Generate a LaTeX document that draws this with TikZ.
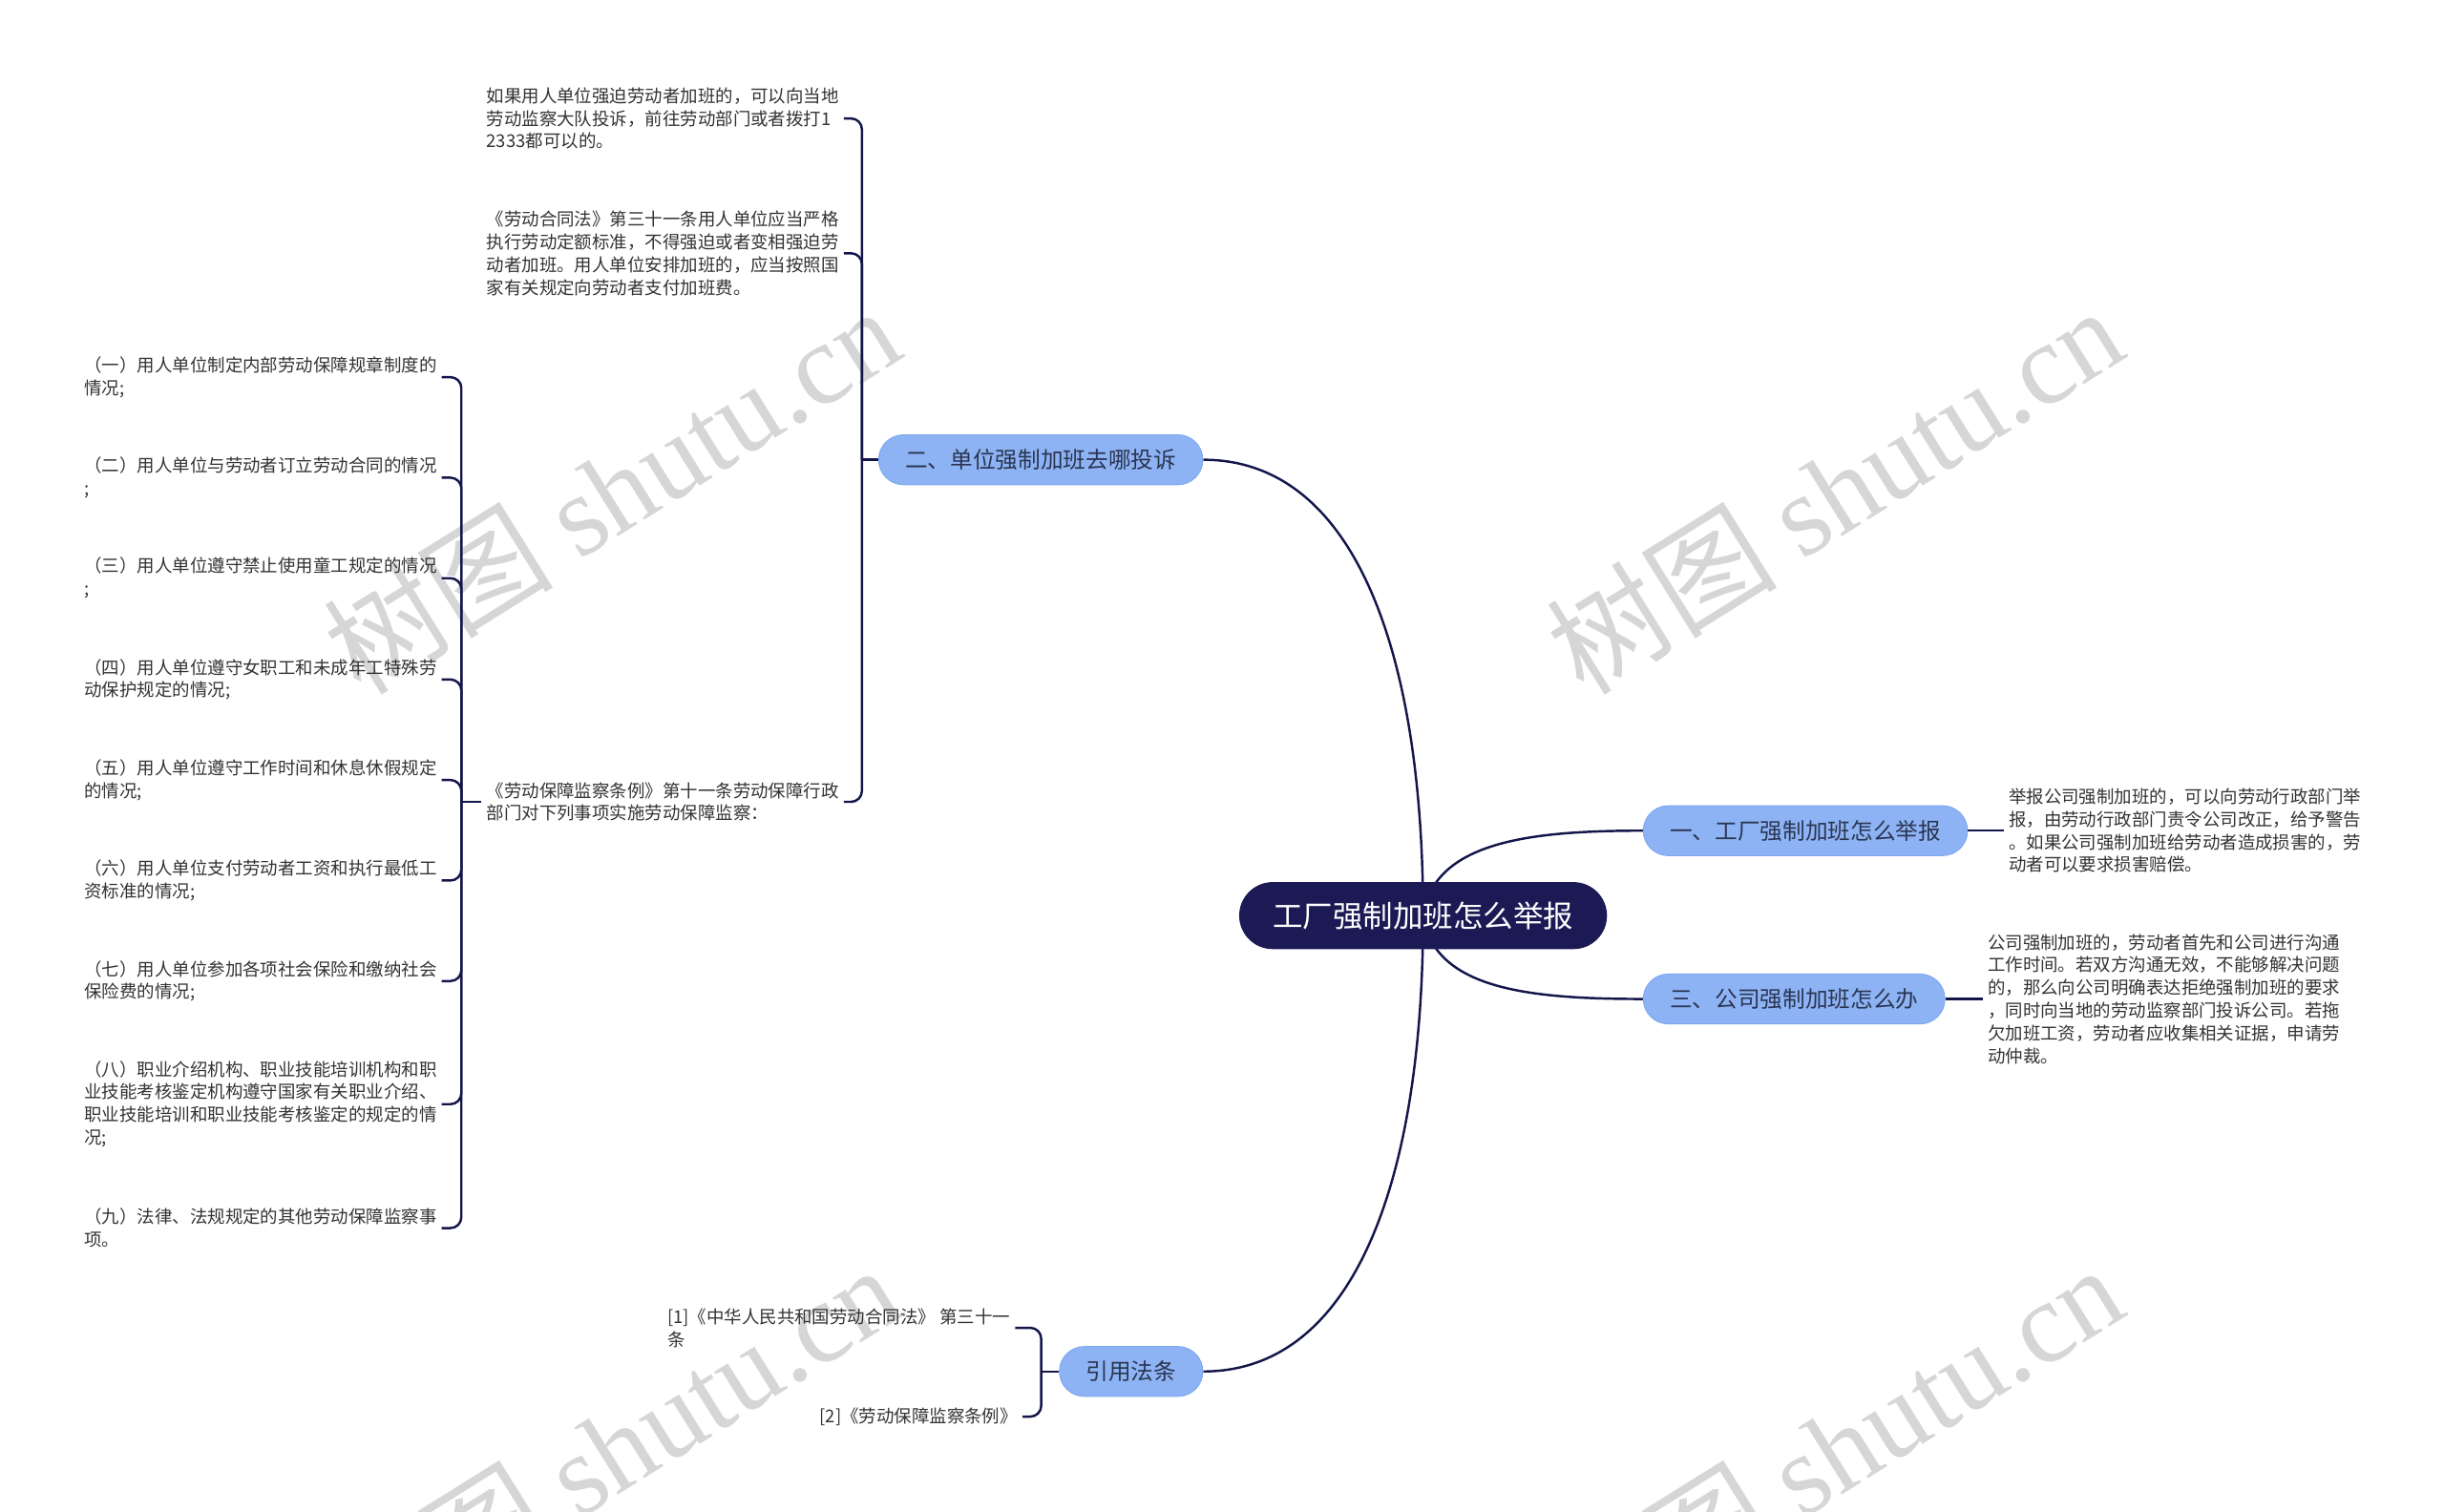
\documentclass[tikz,border=0pt]{standalone}
\usepackage{fontspec}
\setmainfont{Noto Sans CJK SC}
\newfontfamily\wmfont{Liberation Serif}
\usetikzlibrary{positioning,backgrounds}
\definecolor{navy}{HTML}{1B1A55}
\definecolor{linkblue}{HTML}{14164A}
\definecolor{softblue}{HTML}{8DB3F4}
\definecolor{edgeblue}{HTML}{7FA8F0}
\definecolor{textblue}{HTML}{2A3550}
\definecolor{inkgray}{HTML}{333333}
\definecolor{markgray}{HTML}{D6D6D6}

\begin{document}
\begin{tikzpicture}[x=1pt,y=-1pt,
			root/.style={fill=navy,text=white,rounded corners=21.5pt,minimum width=236pt,minimum height=43pt,inner sep=0pt,font=\fontsize{19.3}{23}\selectfont},
			branch/.style={fill=softblue,draw=edgeblue,line width=0.6pt,rounded corners=16pt,minimum height=32pt,inner xsep=17pt,inner ysep=0pt,text=textblue,font=\fontsize{14.5}{17}\selectfont},
			leaf/.style={align=left,inner xsep=3pt,inner ysep=1pt,text=inkgray,font=\fontsize{11.3}{14.6}\selectfont},
			conn/.style={draw=linkblue,line width=1.5pt},
			hook/.style={conn,rounded corners=7pt},
			wmark/.style={text=markgray,rotate=32,inner sep=0pt,font=\fontsize{74}{76}\selectfont}
			]
			\useasboundingbox (0,0) rectangle (1568,970);
			\begin{scope}[on background layer]
				\clip (0,0) rectangle (1568,970);
				\fill[white] (0,0) rectangle (1568,970);
				\foreach \wx/\wy [count=\i] in {392/314,1177/314,392/929,1177/929}
					\node[wmark] (wm\i) at (\wx,\wy) {树图 {\wmfont shutu.cn}};
			\end{scope}
			% centre and main branches
			\node[root] (root) at (913,587.5) {工厂强制加班怎么举报};
			\node[branch,anchor=west] (b1) at (1054,533) {一、工厂强制加班怎么举报};
			\node[branch,anchor=west] (b3) at (1054,641) {三、公司强制加班怎么办};
			\node[branch,anchor=east] (b2) at (772,295) {二、单位强制加班去哪投诉};
			\node[branch,anchor=east] (b4) at (772,880) {引用法条};
			% right leaves
			\node[leaf,right=23pt of b1] (r1) {举报公司强制加班的，可以向劳动行政部门举\\报，由劳动行政部门责令公司改正，给予警告\\。如果公司强制加班给劳动者造成损害的，劳\\动者可以要求损害赔偿。};
			\node[leaf,right=24pt of b3] (r3) {公司强制加班的，劳动者首先和公司进行沟通\\工作时间。若双方沟通无效，不能够解决问题\\的，那么向公司明确表达拒绝强制加班的要求\\，同时向当地的劳动监察部门投诉公司。若拖\\欠加班工资，劳动者应收集相关证据，申请劳\\动仲裁。};
			% leaves of branch two
			\node[leaf,anchor=west] (a1) at (309,76) {如果用人单位强迫劳动者加班的，可以向当地\\劳动监察大队投诉，前往劳动部门或者拨打1\\2333都可以的。};
			\node[leaf,anchor=west] (a2) at (309,162.5) {《劳动合同法》第三十一条用人单位应当严格\\执行劳动定额标准，不得强迫或者变相强迫劳\\动者加班。用人单位安排加班的，应当按照国\\家有关规定向劳动者支付加班费。};
			\node[leaf,anchor=west] (a3) at (309,514.5) {《劳动保障监察条例》第十一条劳动保障行政\\部门对下列事项实施劳动保障监察：};
			\node[leaf,anchor=west] (i1) at (51,242) {（一）用人单位制定内部劳动保障规章制度的\\情况;};
			\node[leaf,anchor=west] (i2) at (51,306.5) {（二）用人单位与劳动者订立劳动合同的情况\\;};
			\node[leaf,anchor=west] (i3) at (51,371) {（三）用人单位遵守禁止使用童工规定的情况\\;};
			\node[leaf,anchor=west] (i4) at (51,436) {（四）用人单位遵守女职工和未成年工特殊劳\\动保护规定的情况;};
			\node[leaf,anchor=west] (i5) at (51,500.5) {（五）用人单位遵守工作时间和休息休假规定\\的情况;};
			\node[leaf,anchor=west] (i6) at (51,565) {（六）用人单位支付劳动者工资和执行最低工\\资标准的情况;};
			\node[leaf,anchor=west] (i7) at (51,629.5) {（七）用人单位参加各项社会保险和缴纳社会\\保险费的情况;};
			\node[leaf,anchor=west] (i8) at (51,708.5) {（八）职业介绍机构、职业技能培训机构和职\\业技能考核鉴定机构遵守国家有关职业介绍、\\职业技能培训和职业技能考核鉴定的规定的情\\况;};
			\node[leaf,anchor=west] (i9) at (51,788) {（九）法律、法规规定的其他劳动保障监察事\\项。};
			% references
			\node[leaf,anchor=west] (c1) at (425,852) {[1]《中华人民共和国劳动合同法》 第三十一\\条};
			\node[leaf,anchor=east] (c2) at (656,909) {[2]《劳动保障监察条例》};
			\coordinate (j2) at (553,295);
			\coordinate (j3) at (296,514.5);
			\coordinate (j4) at (668,880);
			\begin{scope}[on background layer]
				\draw[conn] (root.center) .. controls +(0,-167) and +(98,0) .. (b2.east);
				\draw[conn] (root.center) .. controls +(0,167) and +(98,0) .. (b4.east);
				\draw[conn] (root.center) .. controls +(7,-47) and +(-74,0) .. (b1.west);
				\draw[conn] (root.center) .. controls +(7,47) and +(-74,0) .. (b3.west);
			\end{scope}
			\draw[conn] (b1.east) -- (r1.west);
			\draw[conn] (b3.east) -- (r3.west);
			\draw[conn] (b2.west) -- (j2);
			\foreach \n in {a1,a2,a3}
				\draw[hook] (\n.east) -| (j2);
			\draw[conn] (a3.west) -- (j3);
			\foreach \n in {i1,i2,i3,i4,i5,i6,i7,i8,i9}
				\draw[hook] (\n.east) -| (j3);
			\draw[conn] (b4.west) -- (j4);
			\foreach \n in {c1,c2}
				\draw[hook] (\n.east) -| (j4);
		\end{tikzpicture}
\end{document}
